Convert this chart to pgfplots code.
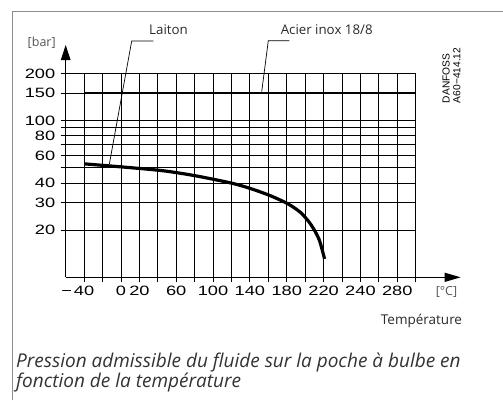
\documentclass[border=0pt]{standalone}
\usepackage{fontspec}
\setmainfont{Open Sans}
\newfontfamily\tickfont[FakeStretch=1.35]{Liberation Sans}
\newfontfamily\arialfont{Liberation Sans}
\usepackage{pgfplots}
\pgfplotsset{compat=1.18}
\usetikzlibrary{arrows.meta}
\definecolor{framegray}{HTML}{8C8C8C}
\definecolor{txtgray}{HTML}{2A2A2A}
\definecolor{capgray}{HTML}{333333}
\begin{document}
\begin{tikzpicture}[x=1pt,y=1pt]
\path[use as bounding box] (0,0) rectangle (503,400);
\draw[framegray, line width=1pt] (12.7,0) -- (12.7,388) -- (503,388);
\begin{axis}[
  at={(65.7pt,122.7pt)}, anchor=south west,
  scale only axis, width=350pt, height=203.8pt,
  xmin=-60, xmax=320, ymode=log, ymin=10, ymax=200,
  axis line style={draw=none},
  xtick={-40,-20,...,320},
  xticklabels={{\llap{−\hspace{2pt}}40},,0,20,,60,,100,,140,,180,,220,,240,,280,},
  ytick={20,30,40,50,60,70,80,90,100,150,200},
  yticklabels={20,30,40,,60,,80,,100,150,200},
  xtick pos=bottom, ytick pos=left,
  tick align=outside, major tick length=5pt,
  tick style={black, line width=0.9pt},
  grid=major, major grid style={black, line width=0.9pt},
  tick label style={font=\tickfont\fontsize{13.5}{13.5}\selectfont, text=black},
  yticklabel style={xshift=-2pt},
  /pgf/number format/assume math mode=true,
  clip=false,
]
\addplot[black, line width=2.7pt] coordinates {(-40,150) (320,150)};
\addplot[black, line width=3.2pt, smooth] coordinates {
(-40,53.0) (0,50.7) (40,48.3) (61,46.5) (86,43.9) (121,39.8) (141,36.8)
(161,33.4) (181,29.5) (195,25.9) (206,21.8) (215,17.5) (221,13.1)};
\end{axis}
\draw[black, line width=1pt, -{Triangle[length=16pt,width=9pt]}] (65.7,122.7) -- (460.7,122.7);
\draw[black, line width=1pt, -{Triangle[length=15pt,width=9.5pt]}] (65.7,122.7) -- (65.7,355);
\draw[black, line width=0.7pt] (153.3,359) -- (131.7,359) -- (109.3,235.7);
\draw[black, line width=0.7pt] (289.3,359.3) -- (268.3,359.3) -- (261.7,308.3);
\node[anchor=base, text=txtgray, font=\fontsize{13.3}{13.3}\selectfont, inner sep=0] at (168.5,365.7) {Laiton};
\node[anchor=base, text=txtgray, font=\fontsize{13.3}{13.3}\selectfont, inner sep=0] at (326.7,365.7) {Acier inox 18/8};
\node[anchor=base, text=txtgray!80, font=\fontsize{12.5}{12.5}\selectfont, inner sep=0] at (41.7,353) {[bar]};
\node[anchor=base, text=txtgray!80, font=\fontsize{12.5}{12.5}\selectfont, inner sep=0] at (446.5,104.5) {[°C]};
\node[anchor=base, text=txtgray, font=\fontsize{13.5}{13.5}\selectfont, inner sep=0] at (421.5,76) {Température};
\node[rotate=90, anchor=south west, align=left, inner sep=0, font=\arialfont\fontsize{10.2}{10.7}\selectfont] at (460.7,296.7) {DANFOSS\\A60−414.12};
\node[anchor=base west, text=capgray, font=\itshape\fontsize{19}{19}\selectfont, inner sep=0] at (16,33) {Pression admissible du fluide sur la poche à bulbe en};
\node[anchor=base west, text=capgray, font=\itshape\fontsize{19}{19}\selectfont, inner sep=0] at (16,13) {fonction de la température};
\end{tikzpicture}
\end{document}
